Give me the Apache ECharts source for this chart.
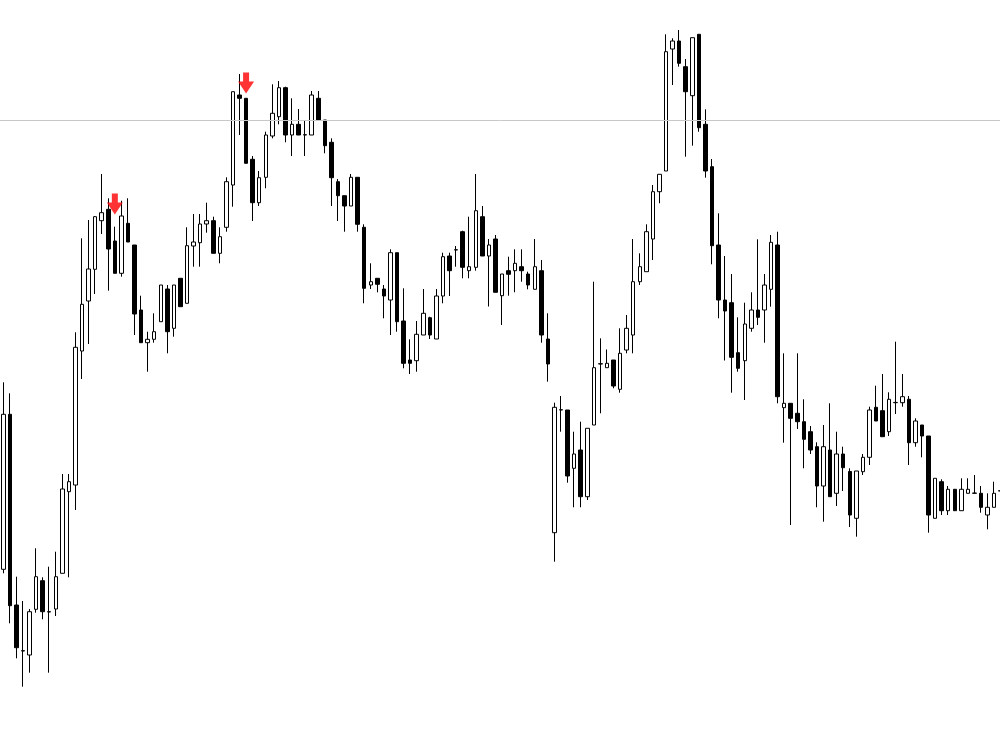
<!DOCTYPE html>
<html>
<head>
<meta charset="utf-8">
<script src="https://cdn.jsdelivr.net/npm/echarts@6/dist/echarts.min.js"></script>
<style>
html,body{margin:0;padding:0;background:#fff;}
#chart{width:1000px;height:732px;}
</style>
</head>
<body>
<div id="chart"></div>
<script>
// Price values (points)
var openPrices = [
162.7,317.7,127,81.3,77,122.7,151.3,120.3,123,158.7,
240.3,247,381,431,462.7,511.3,522.7,491,458.7,508.7,
487,422,389.3,392.7,410.3,443,403.7,453.7,428.7,486,
489.3,508,511.3,478.7,504.7,547,637,633.7,572.7,529.3,
554.7,596,615.3,644.3,597,607.7,597,597,633.7,612,
589.7,550.3,536.3,526,554.7,504.7,447,453.7,443,432,
479.3,411,372,371.3,397,414.3,393,436,476,482,
500.3,461.3,464.7,515.3,476,493,436.3,461.3,461.3,465.3,
458,442.7,461.3,393,199.3,322,322,263.7,282,235.3,
307,368,364.3,372,342.7,382,397,450.3,460.3,493,
540.3,561,683,691,665.3,636.3,697.7,607.7,565.3,487,
432,429.3,379.3,371.3,403.7,422,422,442.7,487,324.3,
328.7,318.7,310.3,300.3,285.3,246,282,238.7,278,260.5,
213.7,260.3,274.7,324.7,321.3,300.3,329.3,329.3,332.7,289.3,
307,296,213.7,250.3,221.3,242.7,221.3,238.7,238.7,238.7,
217,224.7,241
];
var closePrices = [
317.7,126.3,84.3,81,120.3,155.3,120.3,120,155.3,243,
250.3,384.7,427.7,463,515.3,519.3,483,458.7,516,490,
418,389.3,392.7,400.3,447,400.3,447,425.3,486.3,490,
508,511.3,478.7,495.3,550.3,640.3,633.7,568.7,529.3,554.3,
597,618.7,644.3,597,607.7,597,597.3,637,612,586.3,
554.3,536.3,526,554.7,507.7,443.7,450.3,447.7,436,479.3,
410.3,368.7,368.7,397.7,418.7,397,436,475.3,461.3,482.3,
464.7,465.3,521.3,476,487,439.7,458,457.7,468.7,461.3,
447,465.3,397,368,324.7,322.3,256,278,235.3,303.7,
364.3,368.3,368.7,346,378.7,403.7,450.3,465.3,500.3,540.3,
557.7,680.3,691,668.7,640.3,694.3,604.3,561,486.3,432,
421,374.7,363.7,408,422,414.7,447,489.7,335.3,328.7,
313.7,310.3,292.7,282,246,285.3,235.3,278,264.3,217,
261,274.7,322,311,295.3,332.7,329.6,335.3,289.3,311,
296,217,253.7,221.3,242.7,221.3,242.7,242.7,239,224.7,
224.7,238.7,241.3
];
var lowPrices = [
158.7,108.7,73.7,45.3,59.3,119.3,112.7,59.3,116,158.7,
154.7,222,353,388,438,498,441.3,458.7,455.3,490,
397,389.3,360.3,389.3,410.3,378.7,395.3,425.3,428.7,465.3,
465.3,499.3,478.7,468.7,500.3,525.3,597,568.7,511,526,
543.7,593.7,607.7,589.7,576,597,576,597,612,578.7,
526,511,500.3,526,500.3,428.7,443,439.7,413.7,397,
400.3,363.7,358,360.3,397,393,393,428.7,436,465.3,
453.7,453.7,461.3,476,425.5,439.7,407,436.3,439.7,450.3,
442.7,442.7,389.3,350.3,170.3,300.3,249.3,224.7,224.7,232,
307,318.7,364.3,343.7,339.3,378.7,378.7,447,460.3,472,
528.7,561,647,665.3,575.3,586.3,600.3,554.3,467.7,413.7,
371.5,339.3,360.3,332,400.3,407,389.3,425.3,328.7,289.3,
207,303,263.7,278,224.7,210.3,235.3,226,241,205,
195.3,257,267,311,295.3,296,318,325.3,267,285.3,
274.7,199.3,213.7,217,217,221.3,221.3,238.7,238.7,219.3,
202.7,224.7,239
];
var highPrices = [
349.7,338.7,155.3,131,123,183.7,154.7,165.3,180.3,258,
258,399.7,493.7,512,516,558,533.7,505.3,531.3,533.7,
487,436.3,400.3,418.7,447,447,447,453.7,504.7,518,
518,529.3,515.3,504.7,554.7,640.3,658,633.7,576,561,
600.3,647.7,651,645.3,633.7,623,612,641,641,612,
593.7,553,536.3,558,554.7,507.7,468.7,453.7,447,482.7,
479.3,443.7,392.7,411,443,415.3,443,479.3,479.3,486,
501.3,515.3,558,526,493,497,458,475.3,482.7,482.7,
460.3,493,472,418.7,329.3,336,322,300.3,310.3,303.7,
450.3,393.7,382.5,372,403.7,417,493,478.7,507.7,547,
557.7,697.7,693.7,702,673,694.3,697.7,622.7,573,518.7,
476,458,414.7,429.3,439.7,492.7,458,497,500.3,378.7,
328.7,378.7,332.7,306,289.7,307,328.7,300.3,285.3,263.7,
261,278,325.3,346.3,358,339.7,390.3,358,336,313.7,
307,296,253.7,252.7,246,242.7,253.7,253.7,257,246,
238.7,250.3,243
];
// Sell-signal arrows (bar index, price) and horizontal level
var signalIndex = [17, 37];
var signalPrice = [528, 649];
var levelPrice = 612;

var categories = openPrices.map(function (_, i) { return 'Bar ' + (i + 1); });
var candleData = openPrices.map(function (o, i) {
  return [o, closePrices[i], lowPrices[i], highPrices[i]];
});
var arrowData = signalIndex.map(function (idx, k) {
  return [categories[idx], signalPrice[k]];
});

var chart = echarts.init(document.getElementById('chart'), null, {renderer: 'canvas'});
chart.setOption({
  animation: false,
  backgroundColor: '#ffffff',
  grid: {left: 0, right: -4, top: 0, bottom: 0, containLabel: false, outerBoundsMode: 'none'},
  xAxis: {
    type: 'category', data: categories, show: false,
    boundaryGap: true
  },
  yAxis: {
    type: 'value', min: 0, max: 732, show: false, scale: false,
    splitLine: {show: false}
  },
  series: [
    {
      type: 'candlestick',
      data: candleData,
      barWidth: 4,
      clip: false,
      itemStyle: {
        color: '#ffffff',
        color0: '#000000',
        borderColor: '#000000',
        borderColor0: '#000000',
        borderWidth: 1
      },
      markLine: {
        silent: true,
        symbol: ['none', 'none'],
        label: {show: false},
        lineStyle: {color: '#c8c8c8', width: 1, type: 'solid'},
        data: [{yAxis: levelPrice}]
      },
      z: 2
    },
    {
      type: 'scatter',
      data: arrowData,
      symbol: 'path://M5,0 L11,0 L11,9 L16,9 L8,21 L0,9 L5,9 Z',
      symbolSize: [16, 21],
      itemStyle: {color: '#ff0000'},
      z: 5
    }
  ]
});
</script>
</body>
</html>
